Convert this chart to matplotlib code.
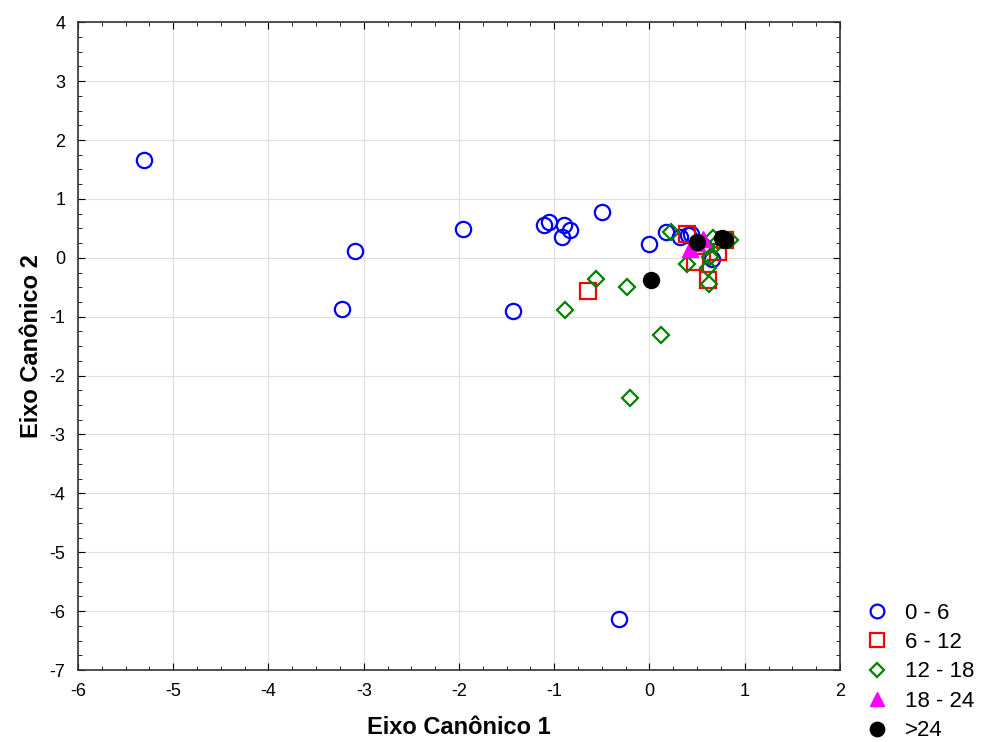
import numpy as np
import matplotlib
matplotlib.use("Agg")
from matplotlib import pyplot as plt
from matplotlib.ticker import MultipleLocator

plt.rcParams['font.family'] = ['Liberation Sans', 'DejaVu Sans']
plt.rcParams['axes.unicode_minus'] = False

# grupos (idade)
x_0_6 = [-5.31, -3.09, -3.23, -1.96, -1.43, -1.11, -1.05, -0.90, -0.83, -0.92, -0.50, 0.00, 0.17, 0.32, 0.41, 0.44, 0.66, -0.32]
y_0_6 = [1.66, 0.11, -0.87, 0.49, -0.91, 0.55, 0.60, 0.55, 0.47, 0.35, 0.77, 0.23, 0.44, 0.36, 0.38, 0.41, -0.02, -6.13]

x_6_12 = [-0.65, 0.39, 0.48, 0.62, 0.72, 0.79]
y_6_12 = [-0.57, 0.40, -0.07, -0.38, 0.10, 0.30]

x_12_18 = [-0.89, -0.56, -0.24, 0.12, -0.20, 0.23, 0.39, 0.64, 0.62, 0.63, 0.67, 0.85, 0.60, 0.70]
y_12_18 = [-0.89, -0.36, -0.50, -1.31, -2.38, 0.43, -0.10, 0.01, -0.18, -0.45, 0.33, 0.31, 0.18, 0.24]

x_18_24 = [0.43, 0.50, 0.56]
y_18_24 = [0.15, 0.25, 0.32]

x_24 = [0.02, 0.50, 0.76, 0.79]
y_24 = [-0.38, 0.27, 0.33, 0.30]

fig = plt.figure(figsize=(9.87, 7.42), dpi=100)
ax = fig.add_axes([0.079, 0.097, 0.772, 0.873])

ax.plot(x_0_6, y_0_6, 'o', mfc='none', mec='#0000ff', mew=1.6, ms=11, label='0 - 6')
ax.plot(x_6_12, y_6_12, 's', mfc='none', mec='#ff0000', mew=1.6, ms=11, label='6 - 12')
ax.plot(x_12_18, y_12_18, 'D', mfc='none', mec='#008000', mew=1.6, ms=8, label='12 - 18')
ax.plot(x_18_24, y_18_24, '^', color='#ff00ff', ms=11, label='18 - 24')
ax.plot(x_24, y_24, 'o', color='black', ms=11.5, label='>24')

ax.set_xlim(-6, 2)
ax.set_ylim(-7, 4)
ax.xaxis.set_major_locator(MultipleLocator(1))
ax.yaxis.set_major_locator(MultipleLocator(1))
ax.xaxis.set_minor_locator(MultipleLocator(0.25))
ax.yaxis.set_minor_locator(MultipleLocator(0.25))
ax.tick_params(which='both', direction='in', top=True, right=True, labelsize=13)
ax.tick_params(which='major', length=5)
ax.tick_params(which='minor', length=3)
ax.tick_params(axis='x', pad=9)
ax.tick_params(axis='y', pad=9)
for s in ax.spines.values():
    s.set_color('#333333')
    s.set_linewidth(1.2)
ax.grid(True, which='major', color='#e0e0e0', lw=0.9)
ax.set_axisbelow(True)

ax.set_xlabel('Eixo Canônico 1', fontsize=17, fontweight='bold', labelpad=12)
ax.set_ylabel('Eixo Canônico 2', fontsize=17, fontweight='bold', labelpad=5)

fig.legend(loc='lower left', bbox_to_anchor=(0.855, -0.026), frameon=False,
           fontsize=16, handletextpad=0.65, labelspacing=0.38, handlelength=1.2,
           markerscale=0.9)

fig.savefig('out.png', dpi=100)
